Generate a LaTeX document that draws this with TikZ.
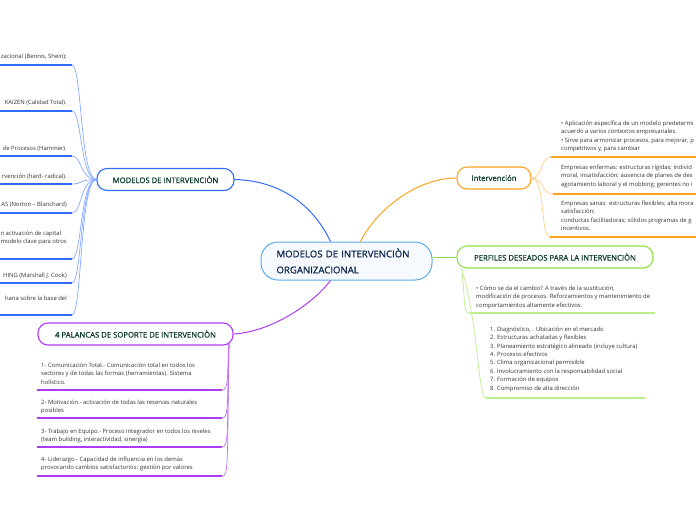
\documentclass[tikz,border=0pt]{standalone}
\usepackage{fontspec}
\setmainfont{Open Sans}
\newfontfamily\semibold[FakeBold=0.9]{Open Sans}
\usetikzlibrary{positioning,calc}
\definecolor{RootLine}{HTML}{5DA9E9}
\definecolor{RootFill}{HTML}{F6FAFF}
\definecolor{RootText}{HTML}{10284A}
\definecolor{BranchText}{HTML}{0F3D2E}
\definecolor{LeafText}{HTML}{333333}
\definecolor{Blue}{HTML}{2F6BFF}
\definecolor{BlueSoft}{HTML}{86AAFF}
\definecolor{Orange}{HTML}{FFA21F}
\definecolor{OrangeSoft}{HTML}{FFCF88}
\definecolor{Green}{HTML}{8EE04A}
\definecolor{GreenSoft}{HTML}{BDEE8E}
\definecolor{Purple}{HTML}{AE3CF2}
\definecolor{PurpleSoft}{HTML}{C270F5}
\tikzset{
  root node/.style={draw=RootLine,line width=1pt,fill=RootFill,rounded corners=17pt,
    minimum width=171pt,minimum height=38pt,text width=140pt,align=left,
    font=\semibold\fontsize{9.6}{16}\selectfont,text=RootText,inner sep=0pt},
  branch node/.style={draw=#1,line width=1.1pt,fill=white,rounded corners=10pt,
    minimum height=22pt,font=\semibold\fontsize{7.7}{8}\selectfont,text=BranchText,inner sep=0pt},
  leaf text/.style={font=\fontsize{5.9}{8.4}\selectfont,text=LeafText,align=left,inner sep=0pt},
  main link/.style={line width=1pt,draw=#1},
  leaf link/.style={line width=.7pt,draw=#1},
  leaf rule/.style={line width=1.6pt,draw=#1}
}
\begin{document}
\begin{tikzpicture}[x=1pt,y=-1pt]
  \useasboundingbox (0,0) rectangle (696,520);
  % centre and main branches
  \node[root node] (root) at (346.5,261) {MODELOS DE INTERVENCIÒN\\ORGANIZACIONAL};
  \node[branch node=Blue,minimum width=137pt] (modelos) at (165.5,179.5) {MODELOS DE INTERVENCIÒN};
  \node[branch node=Orange,minimum width=74pt] (interv) at (494,178) {Intervención};
  \node[branch node=Green,minimum width=196pt] (perfiles) at (555,257) {PERFILES DESEADOS PARA LA INTERVENCIÒN};
  \node[branch node=Purple,minimum width=195pt] (palancas) at (135.5,334) {4 PALANCAS DE SOPORTE DE INTERVENCIÒN};
  \draw[main link=Blue] (modelos.east) .. controls (290,181) and (318,215) .. ([xshift=-16pt]root.north);
  \draw[main link=Orange] ([xshift=14pt]root.north) .. controls (375,212) and (415,178) .. (interv.west);
  \draw[main link=Green] (perfiles.west -| root.east) -- (perfiles.west);
  \draw[main link=Purple] ([xshift=-16pt]root.south) .. controls (312,305) and (270,332) .. (palancas.east);

  % modelos: leaves cut by the left edge
  \node[leaf text,anchor=north east] (m1 text) at (67,53.6) {zacional (Bennis, Shein);};
  \node[leaf text,anchor=north east] (m2 text) at (67,99.6) {KAIZEN (Calidad Total).};
  \node[leaf text,anchor=north east] (m3 text) at (67,145.6) {de Procesos (Hammer).};
  \node[leaf text,anchor=north east] (m4 text) at (67,173.6) {rvención (hard- radical).};
  \node[leaf text,anchor=north east] (m5 text) at (67,201.6) {AS (Norton – Blanchard)};
  \node[leaf text,anchor=north east] (m6 text) at (67,230.6) {n activación de capital\\modelo clave para otros};
  \node[leaf text,anchor=north east] (m7 text) at (67,272.6) {HING (Marshall J. Cook)};
  \node[leaf text,anchor=north east] (m8 text) at (67,295.6) {hana sobre la base del};
  \coordinate (m1) at (72,65);  \coordinate (m1 w) at (-2,65);
  \coordinate (m2) at (72,111); \coordinate (m2 w) at (-2,111);
  \coordinate (m3) at (72,156); \coordinate (m3 w) at (-2,156);
  \coordinate (m4) at (72,184); \coordinate (m4 w) at (-2,184);
  \coordinate (m5) at (72,213); \coordinate (m5 w) at (-2,213);
  \coordinate (m6) at (72,259); \coordinate (m6 w) at (-2,259);
  \coordinate (m7) at (72,283); \coordinate (m7 w) at (-2,283);
  \coordinate (m8) at (72,315); \coordinate (m8 w) at (-2,315);
  \draw[leaf rule=Blue] (m1 w) -- (m1);
  \draw[leaf rule=Blue] (m2 w) -- (m2);
  \draw[leaf rule=Blue] (m3 w) -- (m3);
  \draw[leaf rule=Blue] (m4 w) -- (m4);
  \draw[leaf rule=Blue] (m5 w) -- (m5);
  \draw[leaf rule=Blue] (m6 w) -- (m6);
  \draw[leaf rule=Blue] (m7 w) -- (m7);
  \draw[leaf rule=Blue] (m8 w) -- (m8);
  \draw[leaf link=BlueSoft] (modelos.west) .. controls (80,179.5) and (82,65) .. (m1);
  \draw[leaf link=BlueSoft] (modelos.west) .. controls (80,179.5) and (82,111) .. (m2);
  \draw[leaf link=BlueSoft] (modelos.west) .. controls (80,179.5) and (82,156) .. (m3);
  \draw[leaf link=BlueSoft] (modelos.west) .. controls (80,179.5) and (82,184) .. (m4);
  \draw[leaf link=BlueSoft] (modelos.west) .. controls (80,179.5) and (82,213) .. (m5);
  \draw[leaf link=BlueSoft] (modelos.west) .. controls (80,179.5) and (82,259) .. (m6);
  \draw[leaf link=BlueSoft] (modelos.west) .. controls (80,179.5) and (82,283) .. (m7);
  \draw[leaf link=BlueSoft] (modelos.west) .. controls (80,179.5) and (82,315) .. (m8);

  % intervencion: leaves cut by the right edge
  \node[leaf text,anchor=north west] (i1 text) at (561,120.6) {• Aplicación específica de un modelo predetermi\\acuerdo a varios contextos empresariales.\\• Sirve para armonizar procesos, para mejorar, p\\competitivos y, para cambiar};
  \node[leaf text,anchor=north west] (i2 text) at (561,164.6) {Empresas enfermas: estructuras rígidas; individ\\moral, insatisfacción; ausencia de planes de des\\agotamiento laboral y el mobbing; gerentes no i};
  \node[leaf text,anchor=north west] (i3 text) at (561,200.6) {Empresas sanas: estructuras flexibles; alta mora\\satisfacción;\\conductas facilitadoras; sólidos programas de g\\incentivos.};
  \coordinate (i1) at (551,157); \coordinate (i1 e) at (700,157);
  \coordinate (i2) at (553,194); \coordinate (i2 e) at (700,194);
  \coordinate (i3) at (550,237); \coordinate (i3 e) at (700,237);
  \draw[leaf rule=Orange,line width=1.4pt] (i1) -- (i1 e);
  \draw[leaf rule=Orange,line width=1.4pt] (i2) -- (i2 e);
  \draw[leaf rule=Orange,line width=1.4pt] (i3) -- (i3 e);
  \draw[leaf link=OrangeSoft] (interv.east) .. controls (543,178) and (540,157) .. (i1);
  \draw[leaf link=OrangeSoft] (interv.east) .. controls (543,178) and (542,194) .. (i2);
  \draw[leaf link=OrangeSoft] (interv.east) .. controls (546,180) and (540,237) .. (i3);

  % perfiles
  \node[leaf text,anchor=north west] (p1 text) at (476,285.6) {• Cómo se da el cambio? A través de la sustitución,\\modificación de procesos. Reforzamientos y mantenimiento de\\comportamientos altamente efectivos.};
  \node[leaf text,anchor=north west] (p2 text) at (490,326.6) {1. Diagnóstico, . Ubicación en el mercado\\2. Estructuras achatadas y flexibles\\3. Planeamiento estratégico alineado (incluye cultura)\\4. Procesos efectivos\\5. Clima organizacional permisible\\6. Involucramiento con la responsabilidad social\\7. Formación de equipos\\8. Compromiso de alta dirección};
  \coordinate (perfiles hub) at ([xshift=5pt]perfiles.south west);
  \coordinate (p1) at (470,313); \coordinate (p1 e) at (655,313);
  \coordinate (p2) at (486,398); \coordinate (p2 e) at (645,398);
  \draw[leaf rule=GreenSoft,line width=1.3pt] (p1) -- (p1 e);
  \draw[leaf rule=GreenSoft,line width=1.3pt] (p2) -- (p2 e);
  \draw[leaf link=GreenSoft] (perfiles hub) .. controls (466,300) and (462,313) .. (p1);
  \draw[leaf link=GreenSoft] (perfiles hub) .. controls (478,320) and (478,398) .. (p2);

  % palancas
  \node[leaf text,anchor=north west] (q1 text) at (41,362.6) {1- Comunicación Total.- Comunicación total en todos los\\sectores y de todas las formas (herramientas). Sistema\\holístico.};
  \node[leaf text,anchor=north west] (q2 text) at (41,399.6) {2- Motivación.- activación de todas las reservas naturales\\posibles};
  \node[leaf text,anchor=north west] (q3 text) at (41,428.6) {3- Trabajo en Equipo.- Proceso integrador en todos los niveles\\(team building, interactividad, sinergia)};
  \node[leaf text,anchor=north west] (q4 text) at (41,456.6) {4- Liderazgo.- Capacidad de influencia en los demás\\provocando cambios satisfactorios: gestión por valores};
  \coordinate (palancas hub) at (229,343);
  \coordinate (q1) at (222,390); \coordinate (q1 w) at (37,390);
  \coordinate (q2) at (222,418); \coordinate (q2 w) at (37,418);
  \coordinate (q3) at (222,447); \coordinate (q3 w) at (37,447);
  \coordinate (q4) at (222,476); \coordinate (q4 w) at (37,476);
  \draw[leaf rule=Purple,line width=1.4pt] (q1 w) -- (q1);
  \draw[leaf rule=Purple,line width=1.4pt] (q2 w) -- (q2);
  \draw[leaf rule=Purple,line width=1.4pt] (q3 w) -- (q3);
  \draw[leaf rule=Purple,line width=1.4pt] (q4 w) -- (q4);
  \draw[leaf link=PurpleSoft] (palancas hub) .. controls (227,375) and (229,390) .. (q1);
  \draw[leaf link=PurpleSoft] (palancas hub) .. controls (227,403) and (229,418) .. (q2);
  \draw[leaf link=PurpleSoft] (palancas hub) .. controls (227,432) and (229,447) .. (q3);
  \draw[leaf link=PurpleSoft] (palancas hub) .. controls (227,461) and (229,476) .. (q4);
\end{tikzpicture}
\end{document}
